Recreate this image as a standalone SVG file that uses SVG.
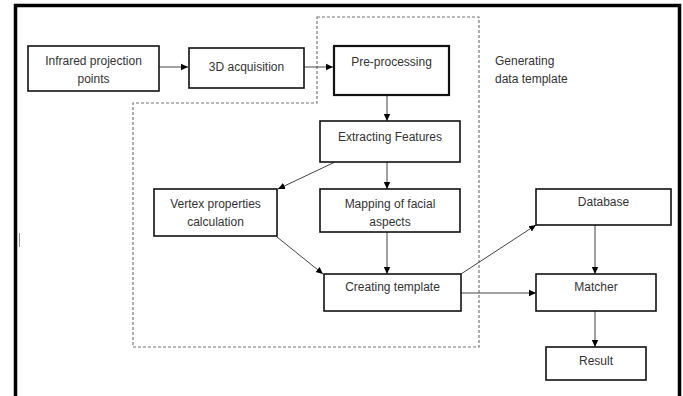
<svg xmlns="http://www.w3.org/2000/svg" width="683" height="396" viewBox="0 0 683 396">
<style>
.box{fill:#fff;stroke:#111;stroke-width:1.6}
.thick{stroke-width:2.2}
.t{font-family:"Liberation Sans",Arial,sans-serif;font-size:12px;fill:#333;text-anchor:middle}
.tl{font-family:"Liberation Sans",Arial,sans-serif;font-size:12px;fill:#333}
.c{fill:none;stroke:#444;stroke-width:1;marker-end:url(#ah)}
</style>
<defs>
<marker id="ah" markerWidth="8" markerHeight="8" refX="7" refY="4" orient="auto" markerUnits="userSpaceOnUse">
<path d="M0,0.8 L7,4 L0,7.2 Z" fill="#000"/>
</marker>
</defs>
<rect width="683" height="396" fill="#fff"/>
<path d="M15.5,396 V5.5 H679.5 V396" fill="none" stroke="#000" stroke-width="3.5"/>
<line x1="19.5" y1="233" x2="19.5" y2="247" stroke="#999" stroke-width="1"/>
<g id="group-boundary">
<path d="M317,17 H479 V347 H133 V103 H317 Z" fill="none" stroke="#777" stroke-width="1.2" stroke-dasharray="3,2"/>
<text class="tl" x="495" y="65">Generating</text>
<text class="tl" x="495" y="83">data template</text>
</g>
<g id="connectors">
<line class="c" x1="159" y1="67" x2="188" y2="67"/>
<line class="c" x1="304" y1="67" x2="333" y2="67"/>
<line class="c" x1="387" y1="95" x2="387" y2="121"/>
<line class="c" x1="335" y1="162" x2="278" y2="189"/>
<line class="c" x1="387" y1="162" x2="387" y2="189"/>
<line class="c" x1="277" y1="237" x2="323" y2="274"/>
<line class="c" x1="387" y1="232" x2="387" y2="274"/>
<line class="c" x1="461" y1="274" x2="536" y2="225"/>
<line class="c" x1="461" y1="293" x2="536" y2="293"/>
<line class="c" x1="595" y1="225" x2="595" y2="274"/>
<line class="c" x1="595" y1="311" x2="595" y2="347"/>
</g>
<g id="infrared">
<rect class="box" x="28" y="46" width="131" height="45"/>
<text class="t" x="93.5" y="65">Infrared projection</text>
<text class="t" x="93.5" y="83">points</text>
</g>
<g id="acquisition">
<rect class="box" x="189" y="48" width="115" height="40"/>
<text class="t" x="246.5" y="71">3D acquisition</text>
</g>
<g id="preprocessing">
<rect class="box thick" x="334" y="46" width="115" height="49"/>
<text class="t" x="391.5" y="66">Pre-processing</text>
</g>
<g id="extracting">
<rect class="box" x="320" y="121" width="140" height="41"/>
<text class="t" x="390" y="141">Extracting Features</text>
</g>
<g id="vertex">
<rect class="box" x="154" y="189" width="123" height="47"/>
<text class="t" x="215.5" y="208">Vertex properties</text>
<text class="t" x="215.5" y="226">calculation</text>
</g>
<g id="mapping">
<rect class="box" x="320" y="189" width="140" height="43"/>
<text class="t" x="390" y="208">Mapping of facial</text>
<text class="t" x="390" y="226">aspects</text>
</g>
<g id="creating">
<rect class="box" x="324" y="274" width="137" height="37"/>
<text class="t" x="392.5" y="291">Creating template</text>
</g>
<g id="database">
<rect class="box" x="536" y="189" width="135" height="36"/>
<text class="t" x="603.5" y="206">Database</text>
</g>
<g id="matcher">
<rect class="box" x="536" y="274" width="120" height="37"/>
<text class="t" x="596" y="291">Matcher</text>
</g>
<g id="result">
<rect class="box" x="546" y="347" width="100" height="33"/>
<text class="t" x="596" y="365">Result</text>
</g>
</svg>
